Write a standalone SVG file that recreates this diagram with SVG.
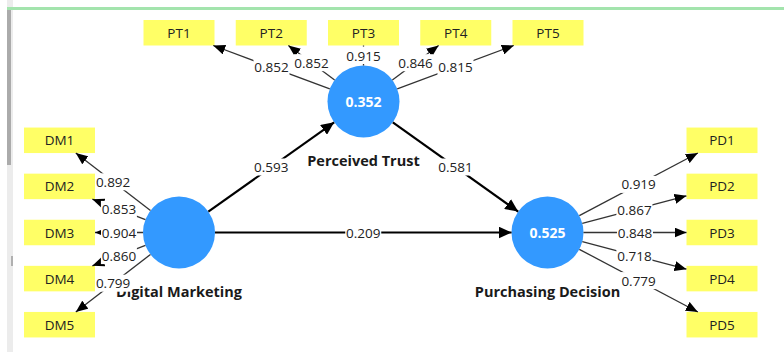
<svg xmlns="http://www.w3.org/2000/svg" width="784" height="352" viewBox="0 0 784 352">
  <style>
    .ind { fill: #ffff66; }
    .ind-t { font-family: "Open Sans", "Noto Sans", "DejaVu Sans", sans-serif; font-size: 13.5px; fill: #222; text-anchor: middle; }
    .lv { fill: #3399ff; }
    .lv-v { font-family: "Open Sans", "Noto Sans", "DejaVu Sans", sans-serif; font-size: 14px; font-weight: bold; fill: #fff; text-anchor: middle; }
    .lv-n { font-family: "Open Sans", "Noto Sans", "DejaVu Sans", sans-serif; font-size: 14.5px; font-weight: bold; fill: #1a1a1a; text-anchor: middle; }
    .outer { stroke: #333; stroke-width: 1.3; fill: none; marker-end: url(#headOuter); }
    .inner { stroke: #000; stroke-width: 2.2; fill: none; marker-end: url(#headInner); }
    .w-bg { fill: #fff; }
    .w-t { font-family: "Open Sans", "Noto Sans", "DejaVu Sans", sans-serif; font-size: 13.5px; fill: #222; text-anchor: middle; }
  </style>
  <defs>
    <marker id="headOuter" markerUnits="userSpaceOnUse" markerWidth="12" markerHeight="10" refX="12" refY="5" orient="auto">
      <path d="M0,0 L12,5 L0,10 Z" fill="#000"/>
    </marker>
    <marker id="headInner" markerUnits="userSpaceOnUse" markerWidth="13" markerHeight="12" refX="13" refY="6" orient="auto">
      <path d="M0,0 L13,6 L0,12 Z" fill="#000"/>
    </marker>
  </defs>

  <!-- canvas frame -->
  <rect x="0" y="0" width="784" height="352" fill="#fff"/>
  <rect x="7" y="0" width="6" height="352" fill="#ececec"/>
  <rect x="7" y="10" width="4" height="155" fill="#ababab"/>
  <rect x="11" y="256" width="2" height="10" fill="#b0b0b0"/>
  <rect x="7" y="7" width="777" height="3" fill="#a3e4ad"/>

  <!-- latent variables -->
  <g id="digital-marketing">
    <circle class="lv" cx="179" cy="232.5" r="36"/>
    <text class="lv-n" x="179" y="297">Digital Marketing</text>
  </g>
  <g id="perceived-trust">
    <circle class="lv" cx="363.5" cy="101.5" r="36"/>
    <text class="lv-v" x="363.5" y="106.5">0.352</text>
    <text class="lv-n" x="363.5" y="166">Perceived Trust</text>
  </g>
  <g id="purchasing-decision">
    <circle class="lv" cx="547.5" cy="232.5" r="36"/>
    <text class="lv-v" x="547.5" y="237.5">0.525</text>
    <text class="lv-n" x="547.5" y="297">Purchasing Decision</text>
  </g>

  <!-- indicators: Perceived Trust -->
  <g id="PT1"><rect class="ind" x="143.5" y="20" width="71" height="25.5"/><text class="ind-t" x="179" y="37.75">PT1</text></g>
  <g id="PT2"><rect class="ind" x="235.75" y="20" width="71" height="25.5"/><text class="ind-t" x="271.25" y="37.75">PT2</text></g>
  <g id="PT3"><rect class="ind" x="328" y="20" width="71" height="25.5"/><text class="ind-t" x="363.5" y="37.75">PT3</text></g>
  <g id="PT4"><rect class="ind" x="420.25" y="20" width="71" height="25.5"/><text class="ind-t" x="455.75" y="37.75">PT4</text></g>
  <g id="PT5"><rect class="ind" x="512.5" y="20" width="71" height="25.5"/><text class="ind-t" x="548" y="37.75">PT5</text></g>

  <!-- indicators: Digital Marketing -->
  <g id="DM1"><rect class="ind" x="24" y="127.55" width="71" height="25.5"/><text class="ind-t" x="59.5" y="145.3">DM1</text></g>
  <g id="DM2"><rect class="ind" x="24" y="173.65" width="71" height="25.5"/><text class="ind-t" x="59.5" y="191.4">DM2</text></g>
  <g id="DM3"><rect class="ind" x="24" y="219.75" width="71" height="25.5"/><text class="ind-t" x="59.5" y="237.5">DM3</text></g>
  <g id="DM4"><rect class="ind" x="24" y="265.85" width="71" height="25.5"/><text class="ind-t" x="59.5" y="283.6">DM4</text></g>
  <g id="DM5"><rect class="ind" x="24" y="311.95" width="71" height="25.5"/><text class="ind-t" x="59.5" y="329.7">DM5</text></g>

  <!-- indicators: Purchasing Decision -->
  <g id="PD1"><rect class="ind" x="686.5" y="127.55" width="71" height="25.5"/><text class="ind-t" x="722" y="145.3">PD1</text></g>
  <g id="PD2"><rect class="ind" x="686.5" y="173.65" width="71" height="25.5"/><text class="ind-t" x="722" y="191.4">PD2</text></g>
  <g id="PD3"><rect class="ind" x="686.5" y="219.75" width="71" height="25.5"/><text class="ind-t" x="722" y="237.5">PD3</text></g>
  <g id="PD4"><rect class="ind" x="686.5" y="265.85" width="71" height="25.5"/><text class="ind-t" x="722" y="283.6">PD4</text></g>
  <g id="PD5"><rect class="ind" x="686.5" y="311.95" width="71" height="25.5"/><text class="ind-t" x="722" y="329.7">PD5</text></g>

  <!-- paths and loadings -->
  <g id="connectors">
    <!-- outer loadings: Perceived Trust -->
    <line class="outer" x1="329.77" y1="88.93" x2="213.22" y2="45.5"/>
    <line class="outer" x1="334.63" y1="79.99" x2="288.36" y2="45.5"/>
    <line class="outer" x1="363.5" y1="65.5" x2="363.5" y2="45.5"/>
    <line class="outer" x1="392.37" y1="79.99" x2="438.64" y2="45.5"/>
    <line class="outer" x1="397.23" y1="88.93" x2="513.78" y2="45.5"/>
    <!-- outer loadings: Digital Marketing -->
    <line class="outer" x1="150.47" y1="210.54" x2="75.8" y2="153.05"/>
    <line class="outer" x1="145.4" y1="219.57" x2="92.37" y2="199.15"/>
    <line class="outer" x1="143" y1="232.5" x2="95" y2="232.5"/>
    <line class="outer" x1="145.4" y1="245.43" x2="92.37" y2="265.85"/>
    <line class="outer" x1="150.47" y1="254.46" x2="75.8" y2="311.95"/>
    <!-- outer loadings: Purchasing Decision -->
    <line class="outer" x1="579.33" y1="215.68" x2="697.87" y2="153.05"/>
    <line class="outer" x1="582.31" y1="223.31" x2="686.5" y2="195.78"/>
    <line class="outer" x1="583.5" y1="232.5" x2="686.5" y2="232.5"/>
    <line class="outer" x1="582.31" y1="241.69" x2="686.5" y2="269.22"/>
    <line class="outer" x1="579.33" y1="249.32" x2="697.87" y2="311.95"/>
    <!-- structural paths -->
    <line class="inner" x1="208.35" y1="211.66" x2="334.15" y2="122.34"/>
    <line class="inner" x1="392.82" y1="122.38" x2="518.18" y2="211.62"/>
    <line class="inner" x1="215" y1="232.5" x2="511.5" y2="232.5"/>

    <!-- weights -->
    <g><rect class="w-bg" x="253.5" y="58.7" width="36" height="17"/><text class="w-t" x="271.5" y="72.2">0.852</text></g>
    <g><rect class="w-bg" x="293.5" y="54.2" width="36" height="17"/><text class="w-t" x="311.5" y="67.7">0.852</text></g>
    <g><rect class="w-bg" x="345.5" y="46.5" width="36" height="17.5"/><text class="w-t" x="363.5" y="61">0.915</text></g>
    <g><rect class="w-bg" x="397.5" y="54.2" width="36" height="17"/><text class="w-t" x="415.5" y="67.7">0.846</text></g>
    <g><rect class="w-bg" x="437.5" y="58.7" width="36" height="17"/><text class="w-t" x="455.5" y="72.2">0.815</text></g>

    <g><rect class="w-bg" x="95.1" y="173.3" width="36" height="17"/><text class="w-t" x="113.1" y="186.8">0.892</text></g>
    <g><rect class="w-bg" x="100.9" y="200.9" width="36" height="17"/><text class="w-t" x="118.9" y="214.4">0.853</text></g>
    <g><rect class="w-bg" x="101" y="224" width="36" height="17"/><text class="w-t" x="119" y="237.5">0.904</text></g>
    <g><rect class="w-bg" x="100.9" y="247.1" width="36" height="17"/><text class="w-t" x="118.9" y="260.6">0.860</text></g>
    <g><rect class="w-bg" x="95.1" y="274.7" width="36" height="17"/><text class="w-t" x="113.1" y="288.2">0.799</text></g>

    <g><rect class="w-bg" x="620.6" y="175.9" width="36" height="17"/><text class="w-t" x="638.6" y="189.4">0.919</text></g>
    <g><rect class="w-bg" x="616.4" y="201" width="36" height="17"/><text class="w-t" x="634.4" y="214.5">0.867</text></g>
    <g><rect class="w-bg" x="617" y="224" width="36" height="17"/><text class="w-t" x="635" y="237.5">0.848</text></g>
    <g><rect class="w-bg" x="616.4" y="247" width="36" height="17"/><text class="w-t" x="634.4" y="260.5">0.718</text></g>
    <g><rect class="w-bg" x="620.6" y="272.1" width="36" height="17"/><text class="w-t" x="638.6" y="285.6">0.779</text></g>

    <g><rect class="w-bg" x="253.25" y="158.5" width="36" height="17"/><text class="w-t" x="271.25" y="172">0.593</text></g>
    <g><rect class="w-bg" x="437.5" y="158.5" width="36" height="17"/><text class="w-t" x="455.5" y="172">0.581</text></g>
    <g><rect class="w-bg" x="345.25" y="224" width="36" height="17"/><text class="w-t" x="363.25" y="237.5">0.209</text></g>
  </g>
</svg>
